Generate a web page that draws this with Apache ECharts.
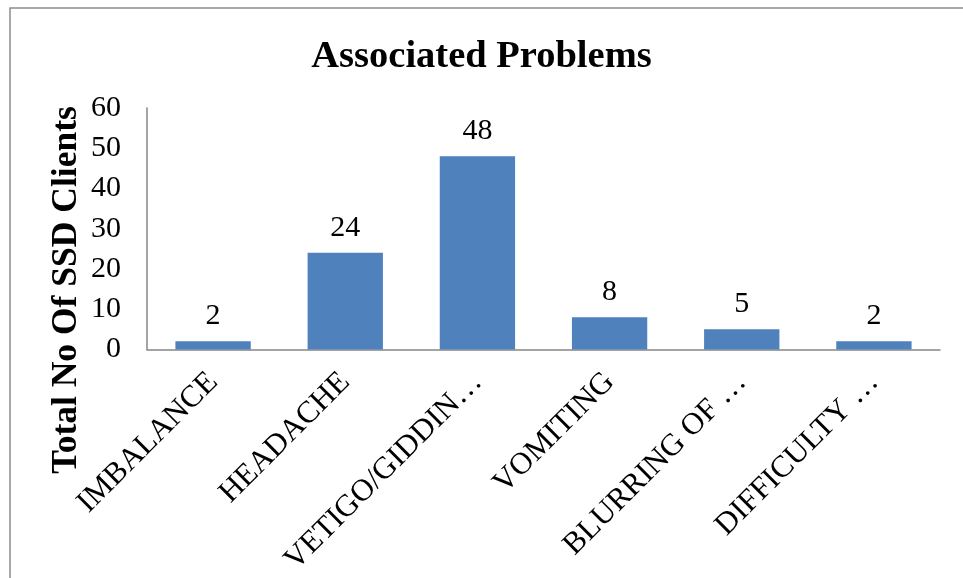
<!DOCTYPE html>
<html>
<head>
<meta charset="utf-8">
<script src="https://cdn.jsdelivr.net/npm/echarts@6/dist/echarts.min.js"></script>
<style>html,body{margin:0;padding:0;background:#fff;}#c{width:963px;height:578px;}</style>
</head>
<body>
<div id="c"></div>
<script>
const categories = ["IMBALANCE", "HEADACHE", "VETIGO/GIDDIN\u2026", "VOMITING", "BLURRING OF \u2026", "DIFFICULTY \u2026"];
const values = [2, 24, 48, 8, 5, 2];
const yTicks = [0, 10, 20, 30, 40, 50, 60];

const serif = '"Liberation Serif", "Times New Roman", serif';
const chart = echarts.init(document.getElementById('c'));
chart.setOption({
  animation: false,
  backgroundColor: '#fff',
  title: {
    text: 'Associated Problems',
    left: 'center',
    top: 33,
    textStyle: { fontFamily: serif, fontSize: 38.5, fontWeight: 'bold', color: '#000' }
  },
  graphic: [
    { type: 'rect', shape: { x: 10, y: 8, width: 1000, height: 620 }, style: { fill: 'none', stroke: '#8c8c8c', lineWidth: 1.5 }, silent: true },
    { type: 'text', x: 67, y: 290, rotation: Math.PI / 2,
      style: { text: 'Total No Of SSD Clients', fontFamily: serif, fontSize: 35.5, fontWeight: 'bold', fill: '#000', textAlign: 'center', textVerticalAlign: 'middle' } }
  ],
  grid: { left: 147, right: 23, top: 108, bottom: 228 },
  xAxis: {
    type: 'category',
    data: categories,
    axisLine: { lineStyle: { color: '#868686', width: 1.5 } },
    axisTick: { show: false },
    axisLabel: { interval: 0, rotate: 45, margin: 28, fontFamily: serif, fontSize: 31, color: '#000' }
  },
  yAxis: {
    type: 'value',
    min: yTicks[0],
    max: yTicks[yTicks.length - 1],
    interval: 10,
    axisLine: { show: true, lineStyle: { color: '#868686', width: 1.5 } },
    axisTick: { show: false },
    splitLine: { show: false },
    axisLabel: { margin: 26, fontFamily: serif, fontSize: 30, color: '#000' }
  },
  series: [{
    type: 'bar',
    data: values,
    barWidth: '57%',
    itemStyle: { color: '#4F81BD' },
    label: { show: true, position: 'top', distance: 10, fontFamily: serif, fontSize: 30, color: '#000' }
  }]
});
</script>
</body>
</html>
